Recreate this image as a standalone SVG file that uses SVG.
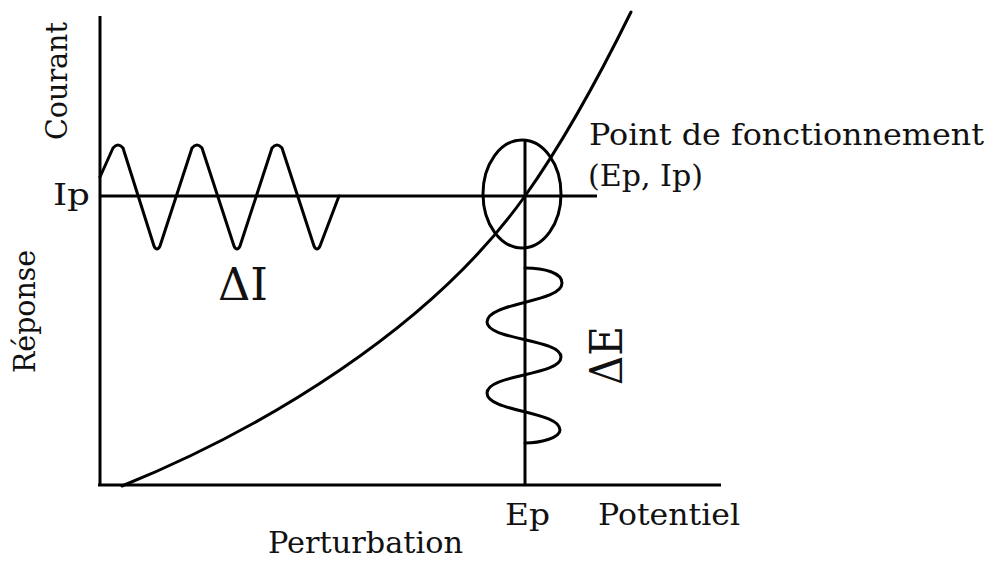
<svg xmlns="http://www.w3.org/2000/svg" width="994" height="562" viewBox="0 0 994 562">
<style>
.ln{fill:none;stroke:#000;stroke-width:3;stroke-linejoin:round;stroke-linecap:round}
.ax{fill:none;stroke:#000;stroke-width:3}
.t{font-family:"DejaVu Serif","Liberation Serif",serif;font-size:29px;fill:#111}
.big{font-size:44px}
</style>
<rect width="994" height="562" fill="#fff"/>
<g id="axes">
<line class="ax" x1="100" y1="16" x2="100" y2="486"/>
<line class="ax" x1="98" y1="485" x2="721" y2="485"/>
</g>
<g id="connectors">
<line class="ax" x1="100" y1="196" x2="597" y2="196"/>
<line class="ax" x1="525" y1="141" x2="525" y2="485"/>
<path class="ln" d="M122,486 C260,430 430,330 525,196 C565,140 600,75 631,12"/>
</g>
<g id="operating-point">
<ellipse class="ln" cx="522" cy="194" rx="39" ry="54"/>
</g>
<g id="wave-current">
<path class="ln" d="M100,177 L113,148 Q118,142 123,148 L154,246 Q157,252 160,246 L192,148 Q197,142 202,148 L234,246 Q237,252 240,246 L272,148 Q277,142 282,148 L314,246 Q317,252 320,246 L339,196"/>
</g>
<g id="wave-potential">
<path class="ln" d="M525,268 C545,268 562,273 562,283 C562,303 487,302 487,322 C487,340 561,339 561,357 C561,376 487,374 487,393 C487,412 560,411 560,430 C560,438 540,443 525,443"/>
</g>
<g id="labels">
<text class="t" transform="translate(67,140) rotate(-90)" textLength="118" lengthAdjust="spacingAndGlyphs">Courant</text>
<text class="t" x="53" y="205" textLength="37" lengthAdjust="spacingAndGlyphs">Ip</text>
<text class="t" transform="translate(35,373) rotate(-90)" textLength="123" lengthAdjust="spacingAndGlyphs">Réponse</text>
<text class="t big" x="218" y="300" textLength="50" lengthAdjust="spacingAndGlyphs">ΔI</text>
<text class="t big" transform="translate(622,385) rotate(-90)" textLength="59" lengthAdjust="spacingAndGlyphs">ΔE</text>
<text class="t" x="589" y="145" textLength="395" lengthAdjust="spacingAndGlyphs">Point de fonctionnement</text>
<text class="t" x="588" y="186" textLength="115" lengthAdjust="spacingAndGlyphs">(Ep, Ip)</text>
<text class="t" x="505" y="525" textLength="45" lengthAdjust="spacingAndGlyphs">Ep</text>
<text class="t" x="598" y="525" textLength="142" lengthAdjust="spacingAndGlyphs">Potentiel</text>
<text class="t" x="268" y="553" textLength="195" lengthAdjust="spacingAndGlyphs">Perturbation</text>
</g>
</svg>
